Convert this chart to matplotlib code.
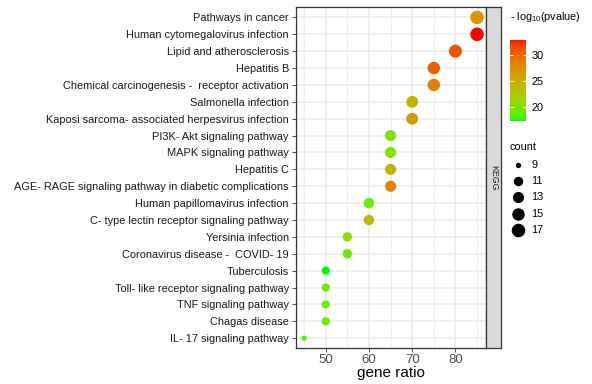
import numpy as np
import matplotlib
matplotlib.use("Agg")
import matplotlib.pyplot as plt
from matplotlib.colors import ListedColormap, Normalize
import matplotlib.colorbar as mcolorbar

plt.rcParams['font.family'] = ['Liberation Sans', 'DejaVu Sans']
plt.rcParams['mathtext.fontset'] = 'custom'
plt.rcParams['mathtext.rm'] = 'Liberation Sans'
plt.rcParams['mathtext.it'] = 'Liberation Sans'

# ---------------- data ----------------
terms = [
    "Pathways in cancer",
    "Human cytomegalovirus infection",
    "Lipid and atherosclerosis",
    "Hepatitis B",
    "Chemical carcinogenesis -  receptor activation",
    "Salmonella infection",
    "Kaposi sarcoma- associated herpesvirus infection",
    "PI3K- Akt signaling pathway",
    "MAPK signaling pathway",
    "Hepatitis C",
    "AGE- RAGE signaling pathway in diabetic complications",
    "Human papillomavirus infection",
    "C- type lectin receptor signaling pathway",
    "Yersinia infection",
    "Coronavirus disease -  COVID- 19",
    "Tuberculosis",
    "Toll- like receptor signaling pathway",
    "TNF signaling pathway",
    "Chagas disease",
    "IL- 17 signaling pathway",
]
gene_ratio = [85, 85, 80, 75, 75, 70, 70, 65, 65, 65, 65, 60, 60, 55, 55, 50, 50, 50, 50, 45]
count = [17, 17, 16, 15, 15, 14, 14, 13, 13, 13, 13, 12, 12, 11, 11, 10, 10, 10, 10, 9]
neg_log10_p = [27.0, 33.0, 31.0, 30.5, 28.3, 24.5, 26.5, 20.0, 20.3, 24.5, 28.5,
               19.0, 24.0, 20.5, 19.2, 17.3, 19.0, 19.0, 19.2, 18.2]
facet = "KEGG"
x_ticks = [50, 60, 70, 80]
cbar_ticks = [20, 25, 30]
legend_counts = [9, 11, 13, 15, 17]


# ---------------- Lab gradient (green -> red, like ggplot) ----------------
def srgb_to_lab(rgb):
    rgb = np.asarray(rgb, float)
    lin = np.where(rgb <= 0.04045, rgb / 12.92, ((rgb + 0.055) / 1.055) ** 2.4)
    M = np.array([[0.4124564, 0.3575761, 0.1804375],
                  [0.2126729, 0.7151522, 0.0721750],
                  [0.0193339, 0.1191920, 0.9503041]])
    xyz = M @ lin
    wp = np.array([0.95047, 1.0, 1.08883])
    t = xyz / wp
    f = np.where(t > (6 / 29) ** 3, np.cbrt(t), t / (3 * (6 / 29) ** 2) + 4 / 29)
    return np.array([116 * f[1] - 16, 500 * (f[0] - f[1]), 200 * (f[1] - f[2])])


def lab_to_srgb(lab):
    L, a, b = lab
    fy_ = (L + 16) / 116
    fx_ = fy_ + a / 500
    fz_ = fy_ - b / 200
    f = np.array([fx_, fy_, fz_])
    t = np.where(f > 6 / 29, f ** 3, 3 * (6 / 29) ** 2 * (f - 4 / 29))
    xyz = t * np.array([0.95047, 1.0, 1.08883])
    Minv = np.array([[3.2404542, -1.5371385, -0.4985314],
                     [-0.9692660, 1.8760108, 0.0415560],
                     [0.0556434, -0.2040259, 1.0572252]])
    lin = Minv @ xyz
    lin = np.clip(lin, 0, 1)
    rgb = np.where(lin <= 0.0031308, 12.92 * lin, 1.055 * lin ** (1 / 2.4) - 0.055)
    return np.clip(rgb, 0, 1)


lab_lo = srgb_to_lab([0, 1, 0])
lab_hi = srgb_to_lab([1, 0, 0])
cols = [lab_to_srgb(lab_lo + (lab_hi - lab_lo) * t) for t in np.linspace(0, 1, 256)]
cmap = ListedColormap(cols)
norm = Normalize(vmin=min(neg_log10_p), vmax=max(neg_log10_p))

# ---------------- sizes (ggplot area scale, range 1..6) ----------------
cmin, cmax = min(legend_counts + count), max(legend_counts + count)


def size_pts2(c):
    gg = 1 + 5 * np.sqrt((np.asarray(c, float) - cmin) / (cmax - cmin))
    d_px = 3.7 + 1.64 * gg
    d_pt = d_px * 0.72
    return d_pt ** 2


# ---------------- figure ----------------
W, H = 592, 384
fig = plt.figure(figsize=(W / 100, H / 100), dpi=100)


def fx(px):
    return px / W


def fy(py):
    return 1 - py / H


pl, pr, pt, pb = 295.5, 485.7, 7.3, 348.3
ax = fig.add_axes([fx(pl), fy(pb), fx(pr - pl), (pb - pt) / H])
ypos = np.arange(len(terms))
ax.set_xlim(43, 87)
ax.set_ylim(len(terms) - 0.4, -0.6)
ax.set_xticks(x_ticks)
ax.set_xticks([45, 55, 65, 75, 85], minor=True)
ax.set_yticks(ypos)
ax.set_yticklabels(terms, fontsize=7.9, color='#1a1a1a')
ax.set_xticklabels([str(v) for v in x_ticks], fontsize=9.5, color='#4d4d4d')
ax.grid(which='major', color='#ebebeb', linewidth=1.1, zorder=0)
ax.grid(which='minor', axis='x', color='#ebebeb', linewidth=0.6, zorder=0)
ax.set_axisbelow(True)
ax.tick_params(axis='both', which='major', length=2.75, width=0.6, color='#333333', pad=2)
ax.tick_params(axis='x', which='major', pad=1.2)
ax.tick_params(axis='x', which='minor', length=0)
for s in ax.spines.values():
    s.set_color('#333333')
    s.set_linewidth(0.9)
ax.scatter(gene_ratio, ypos, s=size_pts2(count), c=neg_log10_p, cmap=cmap, norm=norm,
           linewidths=0, zorder=3)
ax.set_xlabel("gene ratio", fontsize=11, color='black', labelpad=0)

# strip
sax = fig.add_axes([fx(pr), fy(pb), fx(501 - pr), (pb - pt) / H])
sax.set_facecolor('#d9d9d9')
sax.set_xticks([])
sax.set_yticks([])
for s in sax.spines.values():
    s.set_color('#333333')
    s.set_linewidth(0.9)
sax.text(0.5, 0.5, facet, rotation=-90, ha='center', va='center', fontsize=6.3,
         color='#1a1a1a', transform=sax.transAxes)

# colorbar legend
cax = fig.add_axes([fx(510), fy(120.7), fx(16), (120.7 - 39.5) / H])
cb = mcolorbar.ColorbarBase(cax, cmap=cmap, norm=norm, orientation='vertical')
cb.outline.set_visible(False)
cb.set_ticks(cbar_ticks)
cax.tick_params(axis='y', length=0, labelsize=7.8, pad=4, labelcolor='black')
for t in cbar_ticks:
    cax.plot([0, 0.2], [t, t], color='white', lw=0.6, transform=cax.get_yaxis_transform())
    cax.plot([0.8, 1], [t, t], color='white', lw=0.6, transform=cax.get_yaxis_transform())
fig.text(fx(510), fy(17), "- log$_{\\mathrm{10}}$(pvalue)", fontsize=7.8, ha='left', va='center')

# size legend
fig.text(fx(510), fy(147.5), "count", fontsize=7.8, ha='left', va='center')
lax = fig.add_axes([fx(510), fy(239), fx(40), (239 - 156) / H])
lax.set_xlim(0, 40)
lax.set_ylim(len(legend_counts) - 0.5 + 0.05, -0.5 - 0.02)
lax.axis('off')
for i, c in enumerate(legend_counts):
    lax.scatter([8.3], [i], s=size_pts2(c), color='black', linewidths=0)
    lax.text(21.5, i, str(c), fontsize=7.8, ha='left', va='center')

fig.savefig("out.png", dpi=100)
